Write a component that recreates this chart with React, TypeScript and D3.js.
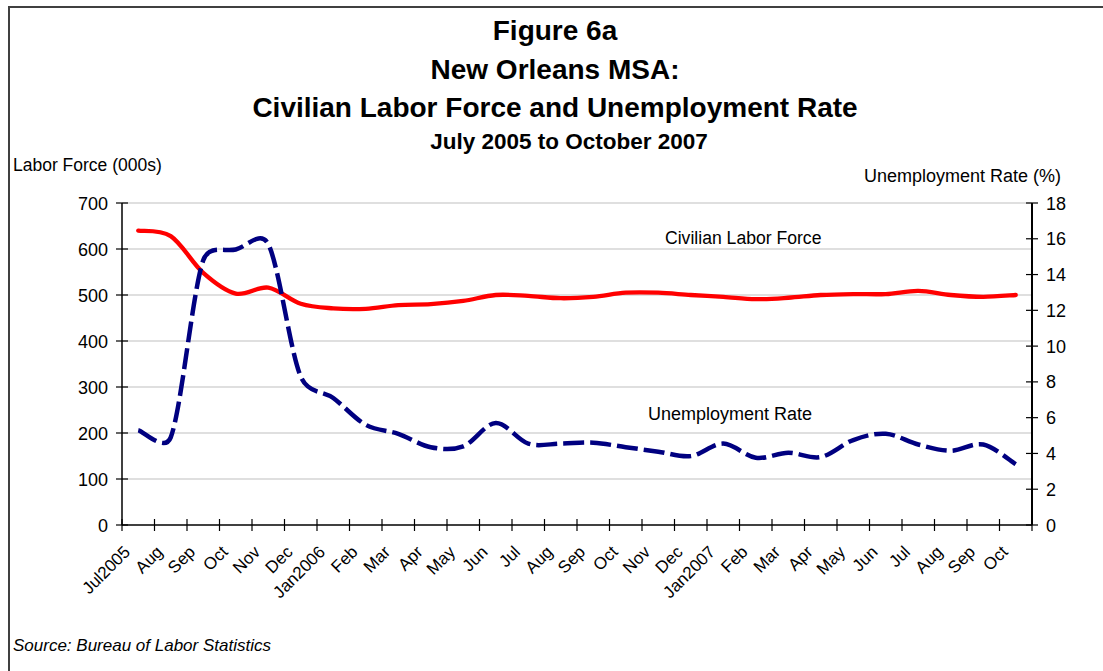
import React from "react";
import * as d3 from "d3";

const months = ["Jul2005","Aug","Sep","Oct","Nov","Dec","Jan2006","Feb","Mar","Apr","May","Jun","Jul","Aug","Sep","Oct","Nov","Dec","Jan2007","Feb","Mar","Apr","May","Jun","Jul","Aug","Sep","Oct"];
const laborForce = [640,628,548,503,516,481,471,470,478,480,487,500,498,493,496,505,505,500,496,491,494,500,502,502,509,500,496,500];
const unemploymentRate = [5.3,4.9,14.8,15.4,15.7,8.3,7.1,5.6,5.1,4.35,4.4,5.7,4.55,4.55,4.6,4.35,4.1,3.85,4.55,3.76,4.04,3.8,4.75,5.1,4.5,4.15,4.5,3.4];
const leftTicks = [0,100,200,300,400,500,600,700];
const rightTicks = [0,2,4,6,8,10,12,14,16,18];
const titleLines = ["Figure 6a","New Orleans MSA:","Civilian Labor Force and Unemployment Rate"];
const subtitle = "July 2005 to October 2007";

const FONT = "'Liberation Sans', Arial, sans-serif";

// Excel-like smoothed line: Catmull-Rom tangents (1/6), with control arms capped to half the segment length
function excelSmooth(context: any) {
  let pts: [number, number][] = [];
  const K = 0.5;
  return {
    areaStart() {},
    areaEnd() {},
    lineStart() { pts = []; },
    point(x: number, y: number) { pts.push([+x, +y]); },
    lineEnd() {
      const n = pts.length;
      if (!n) return;
      context.moveTo(pts[0][0], pts[0][1]);
      const tan = (i: number) => {
        const p0 = pts[Math.max(0, i - 1)], p2 = pts[Math.min(n - 1, i + 1)];
        return [(p2[0] - p0[0]) / 6, (p2[1] - p0[1]) / 6];
      };
      for (let i = 0; i < n - 1; i++) {
        const a = pts[i], b = pts[i + 1];
        const seg = Math.hypot(b[0] - a[0], b[1] - a[1]);
        const t1 = tan(i), t2 = tan(i + 1);
        const cap = K * seg;
        const l1 = Math.hypot(t1[0], t1[1]), l2 = Math.hypot(t2[0], t2[1]);
        const s1 = l1 > cap ? cap / l1 : 1;
        const s2 = l2 > cap ? cap / l2 : 1;
        context.bezierCurveTo(a[0] + t1[0] * s1, a[1] + t1[1] * s1, b[0] - t2[0] * s2, b[1] - t2[1] * s2, b[0], b[1]);
      }
    },
  };
}

export default function App() {
  const left = 122, right = 1032, top = 203, bottom = 525;
  const x = d3.scaleBand<number>().domain(d3.range(months.length)).range([left, right]);
  const cx = (i: number) => (x(i) as number) + x.bandwidth() / 2;
  const yL = d3.scaleLinear().domain([0, 700]).range([bottom, top]);
  const yR = d3.scaleLinear().domain([0, 18]).range([bottom, top]);
  const redPath = d3.line<number>().x((_, i) => cx(i)).y((d) => yL(d)).curve(excelSmooth as any)(laborForce) || "";
  const bluePath = d3.line<number>().x((_, i) => cx(i)).y((d) => yR(d)).curve(excelSmooth as any)(unemploymentRate) || "";
  const boundaries = d3.range(months.length + 1).map((i) => left + i * x.bandwidth());

  return (
    <svg width={1103} height={671} style={{ position: "absolute", left: 0, top: 0, background: "#fff" }} fontFamily={FONT}>
      <rect x={9} y={7} width={1110} height={700} fill="#fff" stroke="#404040" strokeWidth={2} />
      {titleLines.map((t, i) => (
        <text key={t} x={555} y={[40, 79, 117][i]} textAnchor="middle" fontWeight="bold" fontSize={28} fill="#000">{t}</text>
      ))}
      <text x={569} y={149} textAnchor="middle" fontWeight="bold" fontSize={22.5} fill="#000">{subtitle}</text>
      <text x={13} y={171} fontSize={17.5} fill="#000">Labor Force (000s)</text>
      <text x={1061} y={182} textAnchor="end" fontSize={18} fill="#000">Unemployment Rate (%)</text>

      {leftTicks.filter((t) => t > 0).map((t) => (
        <line key={"g" + t} x1={left} x2={right} y1={yL(t)} y2={yL(t)} stroke="#c0c0c0" strokeWidth={1.2} />
      ))}

      <path d={redPath} fill="none" stroke="#ff0000" strokeWidth={4.3} strokeLinecap="round" />
      <path d={bluePath} fill="none" stroke="#000080" strokeWidth={4.5} strokeDasharray="21 6" />

      <line x1={left} x2={right} y1={bottom} y2={bottom} stroke="#000" strokeWidth={1.5} />
      <line x1={left} x2={left} y1={top} y2={bottom} stroke="#000" strokeWidth={1.5} />
      <line x1={right} x2={right} y1={top} y2={bottom} stroke="#000" strokeWidth={2} />

      {leftTicks.map((t) => (
        <g key={"l" + t}>
          <line x1={left - 6} x2={left + 6} y1={yL(t)} y2={yL(t)} stroke="#000" strokeWidth={1.2} />
          <text x={108} y={yL(t) + 6.5} textAnchor="end" fontSize={18} fill="#000">{t}</text>
        </g>
      ))}
      {rightTicks.map((t) => (
        <g key={"r" + t}>
          <line x1={right - 6} x2={right + 6} y1={yR(t)} y2={yR(t)} stroke="#000" strokeWidth={1.2} />
          <text x={1046} y={yR(t) + 6.5} fontSize={18} fill="#000">{t}</text>
        </g>
      ))}
      {boundaries.map((b, i) => (
        <line key={"x" + i} x1={b} x2={b} y1={bottom - 6} y2={bottom + 6} stroke="#000" strokeWidth={1.2} />
      ))}
      {months.map((m, i) => (
        <text key={"m" + i} transform={`translate(${cx(i) - 7},${bottom + 28}) rotate(-45)`} textAnchor="end" fontSize={17} fill="#000">{m}</text>
      ))}

      <text x={665} y={244} fontSize={17.6} fill="#000">Civilian Labor Force</text>
      <text x={648} y={420} fontSize={18} fill="#000">Unemployment Rate</text>

      <text x={13} y={651} fontSize={17} fontStyle="italic" fill="#000">Source:  Bureau of Labor Statistics</text>
    </svg>
  );
}
